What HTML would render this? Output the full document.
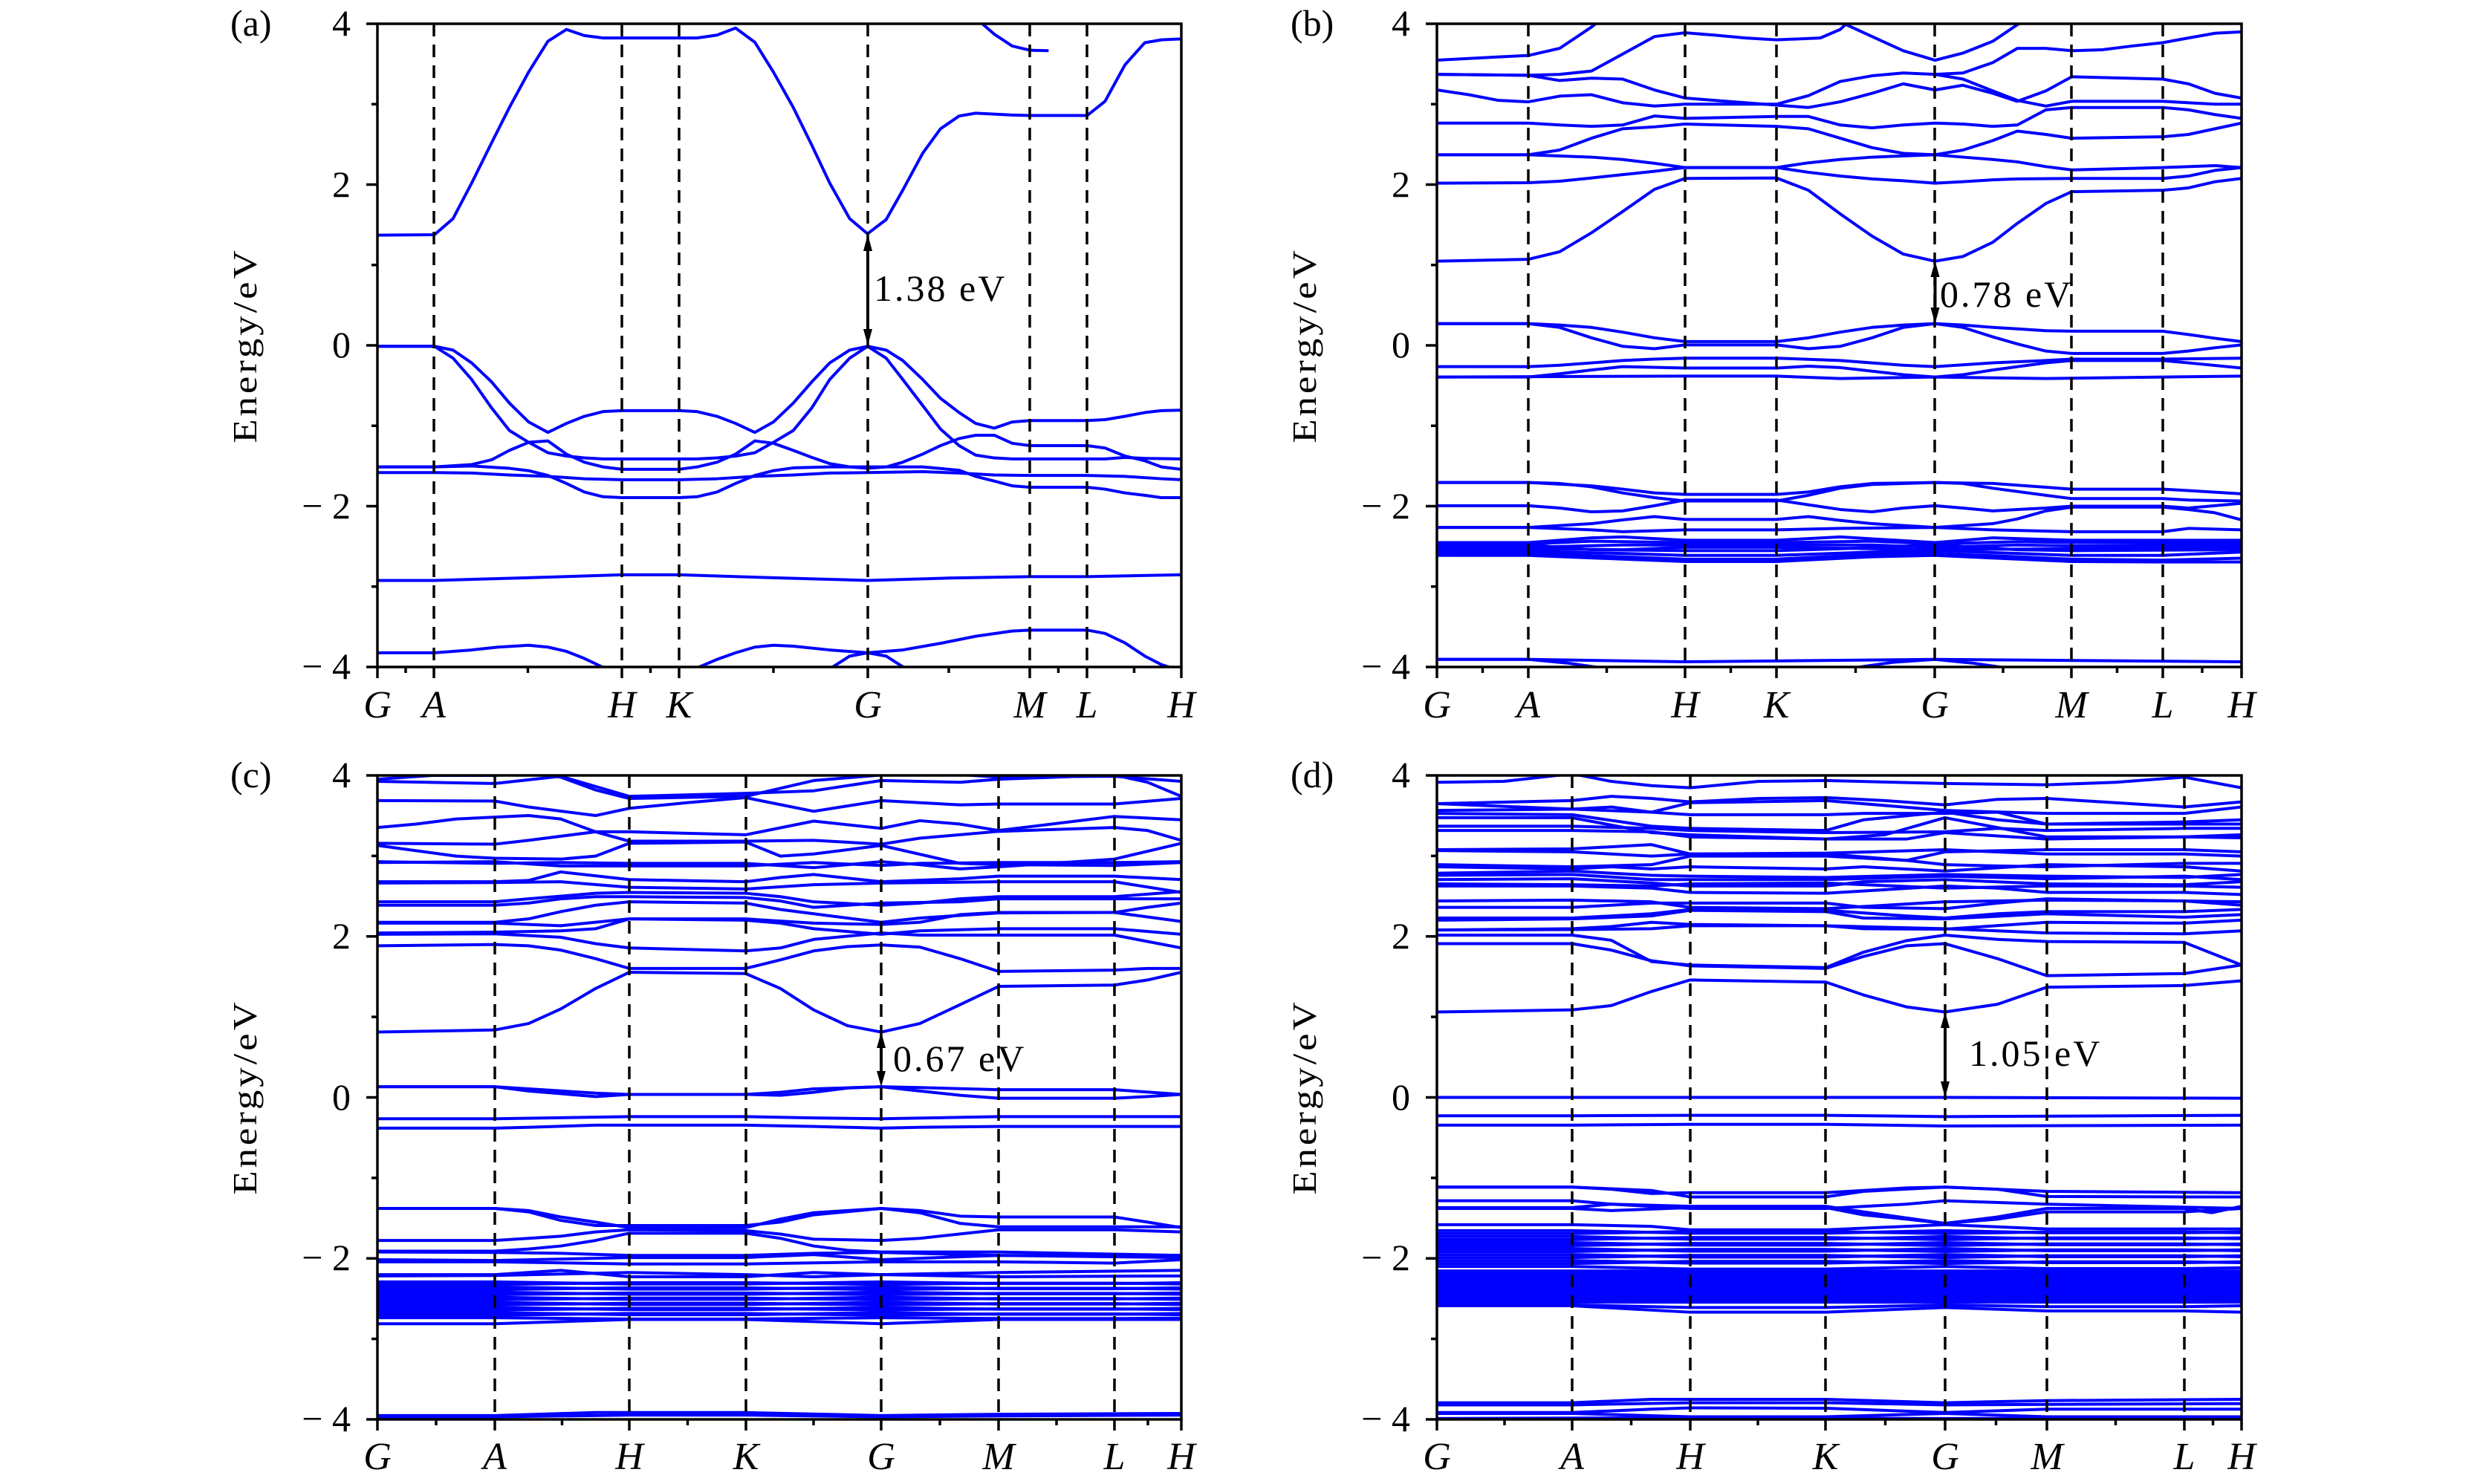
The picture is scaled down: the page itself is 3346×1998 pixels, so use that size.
<!DOCTYPE html>
<html><head><meta charset="utf-8"><style>
html,body{margin:0;padding:0;background:#fff;}
svg{display:block;}
.b polyline{fill:none;stroke:#0000ff;stroke-width:4;vector-effect:non-scaling-stroke;stroke-linejoin:round;}
.t{font-family:"Liberation Serif",serif;font-size:50px;fill:#000;}
.xl{font-family:"Liberation Serif",serif;font-size:52px;font-style:italic;fill:#000;text-anchor:middle;}
.yl{font-family:"Liberation Serif",serif;font-size:50px;fill:#000;text-anchor:end;}
.ax{fill:none;stroke:#000;stroke-width:3.5;}
.dl{stroke:#000;stroke-width:3.5;stroke-dasharray:17 11;}
.tk{stroke:#000;stroke-width:3.5;}
.an{font-family:"Liberation Serif",serif;font-size:50px;letter-spacing:3px;fill:#000;}
.el{font-family:"Liberation Serif",serif;font-size:46px;letter-spacing:3.4px;fill:#000;text-anchor:middle;}
</style></head><body>
<svg width="3346" height="1998" viewBox="0 0 3346 1998" xmlns="http://www.w3.org/2000/svg">
<defs>
<clipPath id="ca"><rect x="508" y="32" width="1082" height="866"/></clipPath>
<clipPath id="cb"><rect x="1934" y="32" width="1083" height="866"/></clipPath>
<clipPath id="cc"><rect x="508" y="1044" width="1082" height="867"/></clipPath>
<clipPath id="cd"><rect x="1934" y="1044" width="1083" height="867"/></clipPath>
</defs>

<!-- ===== Panel (a) bands ===== -->
<g clip-path="url(#ca)"><g class="b" transform="matrix(0.8927,0,0,0.63676,250.9,1.436)">
<polyline points="288,495 374,494 402,460 430,385 460,300 487,225 516,150 545,85 573,60 600,73 628,78 657,78 743,78 770,78 800,72 828,57 857,87 885,150 915,225 943,305 970,385 1000,460 1027,492 1055,462 1080,400 1110,322 1137,270 1165,243 1190,237 1245,241 1272,242 1358,242 1385,212 1415,135 1445,88 1470,82 1500,80"/>
<polyline points="1200,48 1218,70 1245,95 1272,104 1300,105"/>
<polyline points="288,730 374,730 402,738 430,765 460,805 487,850 516,890 545,912 573,893 600,878 628,868 657,866 743,866 770,868 800,878 828,893 857,912 885,890 915,850 943,805 970,765 1000,738 1027,730 1055,738 1080,760 1110,800 1137,840 1165,870 1190,893 1218,903 1245,890 1272,887 1358,887 1385,885 1415,878 1445,870 1470,866 1500,865"/>
<polyline points="288,730 374,730 402,755 430,800 460,860 487,908 516,933 545,955 573,962 600,966 628,968 657,968 743,968 770,968 800,966 828,962 857,955 885,933 915,908 943,860 970,800 1000,755 1027,730 1055,755 1080,800 1110,855 1137,905 1165,940 1190,960 1218,966 1245,968 1358,968 1385,968 1415,965 1445,967 1500,968"/>
<polyline points="288,985 374,985 430,980 460,970 487,950 516,933 545,930 573,958 600,975 628,985 657,990 743,990 770,985 800,975 828,958 857,930 885,935 915,950 943,965 970,978 1000,985 1027,988 1055,985 1080,975 1110,958 1137,940 1165,925 1190,918 1218,918 1245,935 1272,940 1358,940 1385,945 1415,962 1445,972 1470,985 1500,990"/>
<polyline points="288,997 374,997 430,998 487,1002 545,1005 600,1010 657,1012 743,1012 800,1010 857,1005 915,1002 970,998 1027,997 1110,995 1165,998 1218,1002 1272,1003 1358,1003 1415,1005 1470,1010 1500,1012"/>
<polyline points="288,985 374,985 430,983 487,988 516,993 545,1003 573,1020 600,1038 628,1048 657,1050 743,1050 770,1048 800,1038 828,1020 857,1003 885,993 915,987 970,985 1027,985 1080,985 1110,985 1165,992 1190,1005 1218,1015 1245,1025 1272,1028 1358,1028 1385,1032 1415,1040 1445,1045 1470,1050 1500,1050"/>
<polyline points="288,1225 374,1225 500,1220 657,1213 743,1213 900,1220 1027,1225 1150,1220 1272,1217 1358,1217 1500,1213"/>
<polyline points="288,1378 374,1378 430,1372 470,1366 516,1362 545,1366 573,1375 600,1390 630,1410"/>
<polyline points="770,1410 800,1392 828,1378 857,1366 885,1362 915,1364 970,1372 1027,1378 1080,1372 1137,1358 1190,1343 1245,1332 1272,1330 1358,1330 1385,1337 1415,1357 1445,1385 1470,1403 1490,1412"/>
<polyline points="970,1412 1000,1385 1027,1378 1055,1385 1085,1412"/>
</g></g>

<!-- ===== Panel (b) bands ===== -->
<g clip-path="url(#cb)"><g class="b" transform="matrix(0.8928,0,0,0.63676,1700.1,1.436)">
<polyline points="262,550 400,546 447,530 495,490 542,445 590,398 636,375 774,374 822,400 870,450 918,497 965,535 1013,550 1055,540 1100,510 1137,470 1180,428 1219,403 1356,400 1395,395 1435,382 1475,375"/>
<polyline points="262,385 400,384 447,381 495,374 542,367 590,360 636,352 774,352 822,362 870,370 918,376 965,380 1013,385 1055,382 1100,378 1137,376 1219,375 1356,375 1395,370 1435,358 1475,352"/>
<polyline points="262,325 400,325 495,330 542,335 590,343 636,352 774,352 822,342 870,335 918,330 1013,325 1055,330 1100,335 1137,340 1180,350 1219,357 1356,352 1435,348 1475,352"/>
<polyline points="262,325 400,325 447,315 495,290 542,270 590,266 636,260 774,265 822,270 870,290 918,310 965,322 1013,325 1055,315 1100,295 1137,275 1180,282 1219,290 1356,287 1395,282 1435,270 1475,258"/>
<polyline points="262,258 400,258 447,262 495,265 542,262 590,243 636,248 774,244 822,244 870,262 918,268 965,262 1013,258 1055,260 1100,265 1137,262 1180,230 1219,225 1356,225 1395,230 1435,240 1475,248"/>
<polyline points="262,188 310,198 355,210 400,213 447,201 495,198 542,215 590,222 636,218 774,218 822,200 870,170 918,158 965,152 1013,155 1055,165 1100,190 1137,210 1180,222 1219,212 1356,212 1435,218 1475,218"/>
<polyline points="262,155 400,157 447,168 495,163 542,165 590,188 636,205 680,210 774,220 822,225 870,213 918,195 965,175 1013,188 1055,178 1100,195 1137,212 1180,190 1219,160 1356,165 1395,175 1435,195 1475,205"/>
<polyline points="262,155 400,157 447,155 495,148 542,112 590,75 636,67 680,72 727,78 774,82 840,78 870,60 882,44"/>
<polyline points="262,125 355,118 400,115 447,100 495,55 505,44"/>
<polyline points="870,44 918,75 965,105 1013,125 1055,110 1100,85 1137,50 1145,44"/>
<polyline points="1013,155 1055,152 1100,130 1137,100 1180,100 1219,105 1265,103 1310,95 1356,88 1395,78 1435,68 1475,65"/>
<polyline points="262,682 400,682 447,685 495,690 542,700 590,712 636,720 774,720 822,712 870,700 918,690 965,685 1013,682 1055,685 1100,690 1137,693 1180,697 1219,698 1356,698 1395,705 1435,713 1475,720"/>
<polyline points="262,682 400,682 447,690 495,712 542,730 590,735 636,727 774,727 822,735 870,730 918,712 965,690 1013,682 1055,690 1100,710 1137,725 1180,740 1219,745 1356,745 1395,740 1435,733 1475,727"/>
<polyline points="262,773 400,773 447,770 495,765 542,760 590,757 636,755 774,755 870,760 965,770 1013,773 1100,765 1180,760 1219,757 1356,757 1475,755"/>
<polyline points="262,795 400,795 447,788 495,780 542,773 636,776 774,776 822,772 870,775 965,790 1013,795 1055,790 1100,780 1180,765 1219,760 1356,760 1395,765 1475,776"/>
<polyline points="262,795 636,793 774,793 870,798 1013,795 1180,798 1475,793"/>
<polyline points="262,1018 400,1018 495,1025 542,1032 590,1040 636,1043 774,1043 822,1038 870,1027 918,1020 1013,1018 1100,1020 1180,1028 1219,1032 1356,1032 1395,1035 1475,1042"/>
<polyline points="262,1018 400,1018 447,1020 495,1027 542,1040 590,1050 636,1057 774,1057 822,1045 870,1030 918,1022 1013,1018 1055,1020 1100,1030 1180,1045 1219,1052 1356,1052 1395,1055 1475,1057"/>
<polyline points="262,1067 400,1067 447,1072 495,1080 542,1078 590,1067 636,1055 774,1055 822,1065 870,1075 918,1080 965,1072 1013,1067 1055,1072 1100,1078 1137,1075 1180,1072 1219,1068 1356,1068 1395,1072 1475,1062"/>
<polyline points="262,1113 400,1113 495,1105 542,1097 590,1090 636,1096 774,1096 822,1090 870,1098 918,1105 1013,1113 1100,1105 1137,1095 1180,1078 1219,1070 1356,1070 1395,1075 1435,1082 1475,1097"/>
<polyline points="262,1113 400,1113 495,1118 542,1122 636,1118 774,1118 870,1115 1013,1113 1100,1118 1219,1122 1356,1122 1395,1115 1475,1118"/>
<polyline points="262,1145 400,1145 495,1135 542,1133 636,1140 774,1140 870,1133 1013,1145 1100,1135 1219,1140 1475,1140"/>
<polyline points="262,1150 400,1148 495,1142 636,1145 774,1145 918,1142 1013,1148 1137,1143 1219,1145 1475,1145"/>
<polyline points="262,1155 400,1155 542,1150 636,1150 774,1150 918,1150 1013,1155 1137,1150 1219,1152 1475,1150"/>
<polyline points="262,1158 400,1158 542,1160 636,1155 774,1155 918,1158 1013,1160 1219,1158 1475,1155"/>
<polyline points="262,1162 400,1163 542,1168 636,1172 774,1172 918,1165 1013,1162 1137,1168 1219,1172 1356,1172 1475,1165"/>
<polyline points="262,1168 400,1168 542,1175 636,1180 774,1180 918,1170 1013,1168 1137,1175 1219,1180 1356,1182 1475,1178"/>
<polyline points="262,1172 400,1172 542,1180 636,1185 774,1185 918,1175 1013,1172 1137,1180 1219,1185 1356,1186 1475,1186"/>
<polyline points="262,1152 400,1150 495,1160 636,1162 774,1162 870,1158 1013,1150 1137,1160 1219,1162 1475,1160"/>
<polyline points="262,1392 400,1392 636,1397 1013,1392 1475,1397"/>
<polyline points="262,1392 400,1392 460,1400 520,1412"/>
<polyline points="880,1412 950,1398 1013,1392 1070,1400 1130,1412"/>
</g></g>

<!-- ===== Panel (c) bands ===== -->
<g clip-path="url(#cc)"><g class="b" transform="matrix(0.7213,0,0,0.57493,480.59,1029.05)">
<polyline points="38,627 257,622 320,607 380,573 445,525 508,487 725,490 790,525 852,575 915,612 978,627 1050,607 1125,563 1197,520 1413,517 1475,505 1538,487"/>
<polyline points="38,425 257,422 320,425 380,435 445,455 508,478 725,478 790,458 852,437 915,427 978,423 1050,428 1125,455 1197,485 1413,482 1475,478 1538,478"/>
<polyline points="38,398 257,397 380,405 445,420 508,430 725,437 790,430 852,410 978,395 1050,400 1197,400 1413,400 1538,430"/>
<polyline points="38,395 257,393 380,390 445,385 508,362 725,365 790,372 852,385 978,398 1050,390 1197,385 1413,385 1538,398"/>
<polyline points="38,372 257,372 380,378 508,362 725,362 852,372 978,375 1050,370 1125,352 1197,347 1413,347 1538,368"/>
<polyline points="38,370 257,370 320,362 380,345 445,330 508,322 725,325 790,340 852,350 978,370 1050,360 1197,348 1413,347 1475,335 1538,325"/>
<polyline points="38,330 257,330 320,325 380,315 445,310 508,310 725,312 790,320 852,335 978,325 1125,322 1197,315 1413,315 1538,315"/>
<polyline points="38,322 257,322 320,315 445,302 508,300 725,302 790,310 852,322 978,330 1050,325 1125,315 1197,310 1413,310 1538,298"/>
<polyline points="38,278 257,277 380,275 508,288 725,292 852,282 978,278 1197,275 1413,275 1538,300"/>
<polyline points="38,275 257,275 320,272 380,252 508,270 725,275 790,265 852,258 978,275 1125,268 1197,262 1413,262 1538,270"/>
<polyline points="38,230 257,228 380,238 508,238 725,238 852,230 978,237 1050,232 1197,230 1413,230 1538,228"/>
<polyline points="38,228 257,232 380,230 508,232 725,232 852,242 978,228 1050,235 1125,245 1197,240 1413,222 1538,185"/>
<polyline points="38,190 185,215 257,220 380,222 445,215 508,185 725,182 790,215 852,210 978,190 1125,232 1197,235 1413,237 1538,230"/>
<polyline points="38,185 257,187 320,178 445,158 508,180 725,180 852,178 978,187 1050,173 1197,157 1413,148 1475,155 1538,178"/>
<polyline points="38,148 110,140 185,128 320,120 380,128 445,158 508,158 725,165 852,133 978,150 1050,132 1125,140 1197,155 1413,122 1538,130"/>
<polyline points="38,85 257,86 320,100 445,120 508,103 615,90 725,78 852,110 978,85 1125,95 1197,93 1413,93 1538,80"/>
<polyline points="38,40 257,45 380,28 508,75 725,68 852,62 978,38 1125,42 1197,35 1413,25 1475,42 1538,75"/>
<polyline points="38,35 140,26 257,26 320,20 380,30 445,60 508,80 725,75 852,38 978,25 1100,22 1197,30 1413,28 1538,40"/>
<polyline points="38,755 257,755 320,760 445,770 508,773 725,773 790,768 852,760 978,755 1050,757 1197,762 1413,762 1538,773"/>
<polyline points="38,755 257,755 320,765 445,778 508,773 725,773 790,775 852,768 915,758 978,755 1050,765 1125,775 1197,782 1413,782 1475,778 1538,773"/>
<polyline points="38,830 257,830 508,825 725,825 852,828 978,830 1197,825 1538,825"/>
<polyline points="38,852 257,852 320,850 445,845 508,845 725,845 852,848 978,852 1050,850 1197,848 1538,848"/>
<polyline points="38,1040 257,1040 320,1045 380,1060 445,1072 508,1085 725,1085 790,1065 852,1050 915,1045 978,1040 1050,1045 1125,1058 1197,1060 1413,1060 1475,1072 1538,1085"/>
<polyline points="38,1040 257,1040 320,1048 380,1068 445,1080 508,1080 725,1080 790,1072 852,1055 978,1040 1050,1050 1125,1075 1197,1083 1413,1083 1538,1083"/>
<polyline points="38,1115 257,1115 320,1110 380,1105 445,1095 508,1090 725,1092 790,1100 852,1112 978,1115 1050,1110 1197,1090 1413,1090 1538,1095"/>
<polyline points="38,1140 257,1140 320,1135 380,1128 445,1115 508,1098 725,1098 790,1110 852,1128 915,1138 978,1142 1197,1142 1538,1150"/>
<polyline points="38,1142 257,1143 380,1145 508,1150 725,1150 852,1145 978,1143 1197,1150 1538,1155"/>
<polyline points="38,1160 257,1162 508,1155 725,1155 852,1148 978,1160 1197,1150 1413,1150 1538,1150"/>
<polyline points="38,1165 257,1165 508,1170 725,1170 978,1165 1197,1165 1413,1168 1538,1160"/>
<polyline points="38,1195 257,1195 380,1185 508,1200 725,1200 852,1190 978,1195 1197,1190 1538,1185"/>
<polyline points="38,1198 257,1197 508,1190 725,1195 852,1200 978,1195 1197,1200 1538,1198"/>
<polyline points="38,1212 257,1212 508,1217 725,1217 978,1212 1197,1216 1413,1216 1538,1214"/>
<polyline points="38,1218 257,1218 508,1214 725,1214 978,1218 1197,1215 1413,1215 1538,1217"/>
<polyline points="38,1224 257,1224 508,1229 725,1229 978,1224 1197,1228 1413,1228 1538,1226"/>
<polyline points="38,1230 257,1230 508,1226 725,1226 978,1230 1197,1227 1413,1227 1538,1229"/>
<polyline points="38,1236 257,1236 508,1241 725,1241 978,1236 1197,1240 1413,1240 1538,1238"/>
<polyline points="38,1242 257,1242 508,1238 725,1238 978,1242 1197,1239 1413,1239 1538,1241"/>
<polyline points="38,1248 257,1248 508,1253 725,1253 978,1248 1197,1252 1413,1252 1538,1250"/>
<polyline points="38,1254 257,1254 508,1250 725,1250 978,1254 1197,1251 1413,1251 1538,1253"/>
<polyline points="38,1260 257,1260 508,1265 725,1265 978,1260 1197,1264 1413,1264 1538,1262"/>
<polyline points="38,1266 257,1266 508,1262 725,1262 978,1266 1197,1263 1413,1263 1538,1265"/>
<polyline points="38,1272 257,1272 508,1277 725,1277 978,1272 1197,1276 1413,1276 1538,1274"/>
<polyline points="38,1278 257,1278 508,1274 725,1274 978,1278 1197,1275 1413,1275 1538,1277"/>
<polyline points="38,1284 257,1284 508,1289 725,1289 978,1284 1197,1288 1413,1288 1538,1286"/>
<polyline points="38,1290 257,1290 508,1286 725,1286 978,1290 1197,1287 1413,1287 1538,1289"/>
<polyline points="38,1296 257,1296 508,1299 725,1299 978,1296 1197,1298 1413,1298 1538,1297"/>
<polyline points="38,1310 257,1310 508,1300 725,1300 978,1310 1197,1300 1538,1300"/>
<polyline points="38,1525 257,1525 445,1518 508,1518 725,1518 978,1525 1197,1522 1538,1520"/>
<polyline points="38,1528 257,1528 508,1524 725,1524 978,1528 1197,1526 1538,1524"/>
</g></g>

<!-- ===== Panel (d) bands ===== -->
<g clip-path="url(#cd)"><g class="b" transform="matrix(0.722,0,0,0.57493,1908.73,1029.05)">
<polyline points="35,580 287,575 360,565 435,532 507,505 760,510 830,540 910,568 982,580 1080,562 1172,522 1428,518 1535,507"/>
<polyline points="35,420 287,420 360,435 435,460 507,472 760,478 830,450 910,425 982,420 1080,455 1172,495 1428,490 1535,470"/>
<polyline points="35,400 287,400 360,412 435,462 507,470 760,476 830,440 910,413 982,400 1080,410 1172,415 1428,417 1535,470"/>
<polyline points="35,388 287,387 435,385 507,378 760,378 982,385 1080,390 1172,395 1428,397 1535,390"/>
<polyline points="35,42 160,40 287,22 360,40 435,50 507,55 635,40 760,38 982,45 1172,48 1300,42 1428,30 1535,55"/>
<polyline points="35,92 287,85 360,75 435,80 507,88 635,80 760,78 870,85 982,95 1080,82 1172,80 1300,90 1428,100 1535,88"/>
<polyline points="35,108 287,105 435,112 507,90 760,85 982,108 1172,115 1428,115 1535,100"/>
<polyline points="35,115 287,118 435,145 507,150 760,155 830,130 982,112 1080,130 1172,140 1428,135 1535,130"/>
<polyline points="35,125 287,125 435,160 507,165 760,175 870,165 982,125 1172,170 1428,170 1535,165"/>
<polyline points="35,145 287,145 435,150 507,155 760,160 982,158 1080,150 1172,155 1428,150 1535,150"/>
<polyline points="35,155 287,155 435,158 507,170 760,175 910,175 982,160 1172,175 1428,170 1535,172"/>
<polyline points="35,200 287,198 435,188 507,210 760,208 982,200 1172,210 1428,210 1535,215"/>
<polyline points="35,202 287,205 435,215 507,210 760,210 910,225 982,205 1172,200 1428,200 1535,205"/>
<polyline points="35,235 287,240 435,235 507,215 760,215 910,225 982,235 1080,238 1172,240 1428,232 1535,232"/>
<polyline points="35,240 287,245 360,240 435,245 507,240 760,245 830,240 982,250 1172,235 1428,240 1535,250"/>
<polyline points="35,255 287,250 435,260 507,262 760,265 982,258 1172,262 1428,265 1535,258"/>
<polyline points="35,260 287,258 435,270 507,270 760,270 982,262 1172,268 1428,262 1535,270"/>
<polyline points="35,270 287,268 435,278 507,285 760,285 830,275 982,270 1172,280 1428,282 1535,275"/>
<polyline points="35,280 287,282 435,285 507,280 760,278 982,290 1172,285 1428,285 1535,288"/>
<polyline points="35,285 287,285 435,290 507,300 760,302 982,285 1080,290 1172,300 1428,300 1535,305"/>
<polyline points="35,320 287,318 435,322 507,335 760,338 982,322 1172,318 1428,320 1535,322"/>
<polyline points="35,335 287,335 360,330 435,325 507,325 760,325 830,335 982,338 1080,325 1172,315 1428,320 1535,330"/>
<polyline points="35,360 287,360 435,350 507,340 760,342 910,355 982,360 1080,350 1172,345 1428,345 1535,340"/>
<polyline points="35,365 287,362 435,355 507,342 760,345 830,360 982,362 1172,350 1428,358 1535,352"/>
<polyline points="35,388 287,385 360,380 435,370 507,375 760,378 830,385 982,386 1172,370 1428,372 1535,365"/>
<polyline points="35,92 287,105 360,100 435,112 507,118 760,118 830,115 982,115 1080,112 1172,140 1428,140 1535,140"/>
<polyline points="35,780 982,780 1535,782"/>
<polyline points="35,823 287,823 507,822 760,822 982,825 1535,822"/>
<polyline points="35,845 287,845 507,843 760,843 982,847 1535,845"/>
<polyline points="35,990 287,990 360,995 435,1005 507,1003 760,1003 910,992 982,990 1172,1000 1535,1003"/>
<polyline points="35,990 287,990 435,998 507,1013 760,1013 830,1000 982,990 1080,995 1172,1012 1428,1013 1535,1013"/>
<polyline points="35,1022 287,1022 360,1030 507,1040 760,1040 910,1030 982,1022 1172,1030 1535,1040"/>
<polyline points="35,1038 287,1038 360,1030 507,1035 760,1035 830,1048 982,1075 1080,1060 1172,1040 1428,1040 1480,1050 1535,1035"/>
<polyline points="35,1040 287,1040 360,1045 507,1038 760,1038 830,1055 910,1065 982,1075 1080,1065 1172,1048 1428,1048 1535,1040"/>
<polyline points="35,1078 287,1078 435,1082 507,1090 760,1090 910,1082 982,1078 1172,1088 1428,1088 1535,1088"/>
<polyline points="35,1092 287,1092 507,1098 760,1098 982,1092 1172,1097 1428,1097 1535,1095"/>
<polyline points="35,1099 287,1099 507,1094 760,1094 982,1099 1172,1095 1428,1095 1535,1097"/>
<polyline points="35,1106 287,1106 507,1112 760,1112 982,1106 1172,1111 1428,1111 1535,1109"/>
<polyline points="35,1113 287,1113 507,1108 760,1108 982,1113 1172,1109 1428,1109 1535,1111"/>
<polyline points="35,1120 287,1120 507,1126 760,1126 982,1120 1172,1125 1428,1125 1535,1123"/>
<polyline points="35,1127 287,1127 507,1122 760,1122 982,1127 1172,1123 1428,1123 1535,1125"/>
<polyline points="35,1134 287,1134 507,1140 760,1140 982,1134 1172,1139 1428,1139 1535,1137"/>
<polyline points="35,1141 287,1141 507,1136 760,1136 982,1141 1172,1137 1428,1137 1535,1139"/>
<polyline points="35,1148 287,1148 507,1154 760,1154 982,1148 1172,1153 1428,1153 1535,1151"/>
<polyline points="35,1155 287,1155 507,1150 760,1150 982,1155 1172,1151 1428,1151 1535,1153"/>
<polyline points="35,1162 287,1162 507,1168 760,1168 982,1162 1172,1167 1428,1167 1535,1165"/>
<polyline points="35,1169 287,1169 507,1164 760,1164 982,1169 1172,1165 1428,1165 1535,1167"/>
<polyline points="35,1176 287,1176 507,1182 760,1182 982,1176 1172,1181 1428,1181 1535,1179"/>
<rect x="35" y="1183" width="1500" height="80" fill="#0000ff"/>
<polyline points="35,1266 287,1266 507,1272 760,1272 982,1266 1172,1270 1428,1270 1535,1268"/>
<polyline points="35,1268 287,1268 507,1283 760,1283 982,1272 1172,1280 1428,1280 1535,1283"/>
<polyline points="35,1495 287,1495 435,1487 507,1487 760,1487 982,1495 1172,1490 1535,1487"/>
<polyline points="35,1500 287,1500 507,1495 760,1495 982,1500 1535,1497"/>
<polyline points="35,1518 287,1518 435,1510 507,1507 760,1508 982,1518 1172,1510 1535,1510"/>
<polyline points="35,1520 287,1520 507,1528 760,1528 982,1520 1172,1528 1535,1528"/>
<polyline points="35,1532 507,1530 982,1532 1535,1530"/>
</g></g>

<!-- ===== Dashed high-symmetry lines ===== -->
<g class="dl">
<line x1="584" y1="32" x2="584" y2="898"/><line x1="837" y1="32" x2="837" y2="898"/><line x1="914" y1="32" x2="914" y2="898"/><line x1="1168" y1="32" x2="1168" y2="898"/><line x1="1386" y1="32" x2="1386" y2="898"/><line x1="1463" y1="32" x2="1463" y2="898"/>
<line x1="2057" y1="32" x2="2057" y2="898"/><line x1="2268" y1="32" x2="2268" y2="898"/><line x1="2391" y1="32" x2="2391" y2="898"/><line x1="2604" y1="32" x2="2604" y2="898"/><line x1="2788" y1="32" x2="2788" y2="898"/><line x1="2911" y1="32" x2="2911" y2="898"/>
<line x1="666" y1="1044" x2="666" y2="1911"/><line x1="847" y1="1044" x2="847" y2="1911"/><line x1="1004" y1="1044" x2="1004" y2="1911"/><line x1="1186" y1="1044" x2="1186" y2="1911"/><line x1="1344" y1="1044" x2="1344" y2="1911"/><line x1="1500" y1="1044" x2="1500" y2="1911"/>
<line x1="2116" y1="1044" x2="2116" y2="1911"/><line x1="2275" y1="1044" x2="2275" y2="1911"/><line x1="2457" y1="1044" x2="2457" y2="1911"/><line x1="2618" y1="1044" x2="2618" y2="1911"/><line x1="2755" y1="1044" x2="2755" y2="1911"/><line x1="2940" y1="1044" x2="2940" y2="1911"/>
</g>

<!-- ===== Axes boxes ===== -->
<rect class="ax" x="508" y="32" width="1082" height="866"/>
<rect class="ax" x="1934" y="32" width="1083" height="866"/>
<rect class="ax" x="508" y="1044" width="1082" height="867"/>
<rect class="ax" x="1934" y="1044" width="1083" height="867"/>

<!-- ===== Ticks ===== -->
<g class="tk">
<line x1="493" y1="32" x2="508" y2="32"/><line x1="493" y1="248.5" x2="508" y2="248.5"/><line x1="493" y1="465" x2="508" y2="465"/><line x1="493" y1="681.5" x2="508" y2="681.5"/><line x1="493" y1="898" x2="508" y2="898"/>
<line x1="500" y1="140.25" x2="508" y2="140.25"/><line x1="500" y1="356.75" x2="508" y2="356.75"/><line x1="500" y1="573.25" x2="508" y2="573.25"/><line x1="500" y1="789.75" x2="508" y2="789.75"/>
<line x1="1919" y1="32" x2="1934" y2="32"/><line x1="1919" y1="248.5" x2="1934" y2="248.5"/><line x1="1919" y1="465" x2="1934" y2="465"/><line x1="1919" y1="681.5" x2="1934" y2="681.5"/><line x1="1919" y1="898" x2="1934" y2="898"/>
<line x1="1926" y1="140.25" x2="1934" y2="140.25"/><line x1="1926" y1="356.75" x2="1934" y2="356.75"/><line x1="1926" y1="573.25" x2="1934" y2="573.25"/><line x1="1926" y1="789.75" x2="1934" y2="789.75"/>
<line x1="493" y1="1044" x2="508" y2="1044"/><line x1="493" y1="1260.75" x2="508" y2="1260.75"/><line x1="493" y1="1477.5" x2="508" y2="1477.5"/><line x1="493" y1="1694.25" x2="508" y2="1694.25"/><line x1="493" y1="1911" x2="508" y2="1911"/>
<line x1="500" y1="1152.4" x2="508" y2="1152.4"/><line x1="500" y1="1369.1" x2="508" y2="1369.1"/><line x1="500" y1="1585.9" x2="508" y2="1585.9"/><line x1="500" y1="1802.6" x2="508" y2="1802.6"/>
<line x1="1919" y1="1044" x2="1934" y2="1044"/><line x1="1919" y1="1260.75" x2="1934" y2="1260.75"/><line x1="1919" y1="1477.5" x2="1934" y2="1477.5"/><line x1="1919" y1="1694.25" x2="1934" y2="1694.25"/><line x1="1919" y1="1911" x2="1934" y2="1911"/>
<line x1="1926" y1="1152.4" x2="1934" y2="1152.4"/><line x1="1926" y1="1369.1" x2="1934" y2="1369.1"/><line x1="1926" y1="1585.9" x2="1934" y2="1585.9"/><line x1="1926" y1="1802.6" x2="1934" y2="1802.6"/>
<line x1="508" y1="898" x2="508" y2="913"/><line x1="584" y1="898" x2="584" y2="913"/><line x1="837" y1="898" x2="837" y2="913"/><line x1="914" y1="898" x2="914" y2="913"/><line x1="1168" y1="898" x2="1168" y2="913"/><line x1="1386" y1="898" x2="1386" y2="913"/><line x1="1463" y1="898" x2="1463" y2="913"/><line x1="1590" y1="898" x2="1590" y2="913"/>
<line x1="546" y1="898" x2="546" y2="906"/><line x1="710.5" y1="898" x2="710.5" y2="906"/><line x1="875.5" y1="898" x2="875.5" y2="906"/><line x1="1041" y1="898" x2="1041" y2="906"/><line x1="1277" y1="898" x2="1277" y2="906"/><line x1="1424.5" y1="898" x2="1424.5" y2="906"/><line x1="1526.5" y1="898" x2="1526.5" y2="906"/>
<line x1="1934" y1="898" x2="1934" y2="913"/><line x1="2057" y1="898" x2="2057" y2="913"/><line x1="2268" y1="898" x2="2268" y2="913"/><line x1="2391" y1="898" x2="2391" y2="913"/><line x1="2604" y1="898" x2="2604" y2="913"/><line x1="2788" y1="898" x2="2788" y2="913"/><line x1="2911" y1="898" x2="2911" y2="913"/><line x1="3017" y1="898" x2="3017" y2="913"/>
<line x1="1995.5" y1="898" x2="1995.5" y2="906"/><line x1="2162.5" y1="898" x2="2162.5" y2="906"/><line x1="2329.5" y1="898" x2="2329.5" y2="906"/><line x1="2497.5" y1="898" x2="2497.5" y2="906"/><line x1="2696" y1="898" x2="2696" y2="906"/><line x1="2849.5" y1="898" x2="2849.5" y2="906"/><line x1="2964" y1="898" x2="2964" y2="906"/>
<line x1="508" y1="1911" x2="508" y2="1926"/><line x1="666" y1="1911" x2="666" y2="1926"/><line x1="847" y1="1911" x2="847" y2="1926"/><line x1="1004" y1="1911" x2="1004" y2="1926"/><line x1="1186" y1="1911" x2="1186" y2="1926"/><line x1="1344" y1="1911" x2="1344" y2="1926"/><line x1="1500" y1="1911" x2="1500" y2="1926"/><line x1="1590" y1="1911" x2="1590" y2="1926"/>
<line x1="587" y1="1911" x2="587" y2="1919"/><line x1="756.5" y1="1911" x2="756.5" y2="1919"/><line x1="925.5" y1="1911" x2="925.5" y2="1919"/><line x1="1095" y1="1911" x2="1095" y2="1919"/><line x1="1265" y1="1911" x2="1265" y2="1919"/><line x1="1422" y1="1911" x2="1422" y2="1919"/><line x1="1545" y1="1911" x2="1545" y2="1919"/>
<line x1="1934" y1="1911" x2="1934" y2="1926"/><line x1="2116" y1="1911" x2="2116" y2="1926"/><line x1="2275" y1="1911" x2="2275" y2="1926"/><line x1="2457" y1="1911" x2="2457" y2="1926"/><line x1="2618" y1="1911" x2="2618" y2="1926"/><line x1="2755" y1="1911" x2="2755" y2="1926"/><line x1="2940" y1="1911" x2="2940" y2="1926"/><line x1="3017" y1="1911" x2="3017" y2="1926"/>
<line x1="2025" y1="1911" x2="2025" y2="1919"/><line x1="2195.5" y1="1911" x2="2195.5" y2="1919"/><line x1="2366" y1="1911" x2="2366" y2="1919"/><line x1="2537.5" y1="1911" x2="2537.5" y2="1919"/><line x1="2686.5" y1="1911" x2="2686.5" y2="1919"/><line x1="2847.5" y1="1911" x2="2847.5" y2="1919"/><line x1="2978.5" y1="1911" x2="2978.5" y2="1919"/>
</g>

<!-- ===== Y tick labels ===== -->
<g class="yl">
<text x="472" y="48">4</text><text x="472" y="265">2</text><text x="472" y="481">0</text><text x="472" y="698">− 2</text><text x="472" y="914">− 4</text>
<text x="1898" y="48">4</text><text x="1898" y="265">2</text><text x="1898" y="481">0</text><text x="1898" y="698">− 2</text><text x="1898" y="914">− 4</text>
<text x="472" y="1060">4</text><text x="472" y="1277">2</text><text x="472" y="1494">0</text><text x="472" y="1710">− 2</text><text x="472" y="1927">− 4</text>
<text x="1898" y="1060">4</text><text x="1898" y="1277">2</text><text x="1898" y="1494">0</text><text x="1898" y="1710">− 2</text><text x="1898" y="1927">− 4</text>
</g>

<!-- ===== X labels ===== -->
<g class="xl">
<text x="508" y="966">G</text><text x="584" y="966">A</text><text x="837" y="966">H</text><text x="914" y="966">K</text><text x="1168" y="966">G</text><text x="1386" y="966">M</text><text x="1463" y="966">L</text><text x="1590" y="966">H</text>
<text x="1934" y="966">G</text><text x="2057" y="966">A</text><text x="2268" y="966">H</text><text x="2391" y="966">K</text><text x="2604" y="966">G</text><text x="2788" y="966">M</text><text x="2911" y="966">L</text><text x="3017" y="966">H</text>
<text x="508" y="1978">G</text><text x="666" y="1978">A</text><text x="847" y="1978">H</text><text x="1004" y="1978">K</text><text x="1186" y="1978">G</text><text x="1344" y="1978">M</text><text x="1500" y="1978">L</text><text x="1590" y="1978">H</text>
<text x="1934" y="1978">G</text><text x="2116" y="1978">A</text><text x="2275" y="1978">H</text><text x="2457" y="1978">K</text><text x="2618" y="1978">G</text><text x="2755" y="1978">M</text><text x="2940" y="1978">L</text><text x="3017" y="1978">H</text>
</g>

<!-- ===== Panel labels ===== -->
<text class="t" x="310" y="48">(a)</text>
<text class="t" x="1737" y="48">(b)</text>
<text class="t" x="310" y="1060">(c)</text>
<text class="t" x="1737" y="1060">(d)</text>

<!-- ===== Y axis titles ===== -->
<text class="el" transform="translate(345,465) rotate(-90) scale(1.15,1)">Energy/eV</text>
<text class="el" transform="translate(1771,465) rotate(-90) scale(1.15,1)">Energy/eV</text>
<text class="el" transform="translate(345,1477) rotate(-90) scale(1.15,1)">Energy/eV</text>
<text class="el" transform="translate(1771,1477) rotate(-90) scale(1.15,1)">Energy/eV</text>

<!-- ===== Gap arrows ===== -->
<g stroke="#000" stroke-width="4" fill="#000">
<line x1="1168" y1="330" x2="1168" y2="451"/>
<polygon stroke="none" points="1168,315.6 1162,338 1174,338"/>
<polygon stroke="none" points="1168,465 1162,443 1174,443"/>
<line x1="2604.5" y1="365" x2="2604.5" y2="422"/>
<polygon stroke="none" points="2604.5,351.3 2598.5,373 2610.5,373"/>
<polygon stroke="none" points="2604.5,435.8 2598.5,414 2610.5,414"/>
<line x1="1186" y1="1403" x2="1186" y2="1450"/>
<polygon stroke="none" points="1186,1389.5 1180,1411 1192,1411"/>
<polygon stroke="none" points="1186,1463.1 1180,1442 1192,1442"/>
<line x1="2618" y1="1376" x2="2618" y2="1464"/>
<polygon stroke="none" points="2618,1362.5 2612,1384 2624,1384"/>
<polygon stroke="none" points="2618,1477.5 2612,1456 2624,1456"/>
</g>
<text class="an" x="1176" y="405">1.38 eV</text>
<text class="an" x="2611" y="413">0.78 eV</text>
<text class="an" x="1202" y="1442">0.67 eV</text>
<text class="an" x="2650" y="1435">1.05 eV</text>
</svg>
</body></html>
